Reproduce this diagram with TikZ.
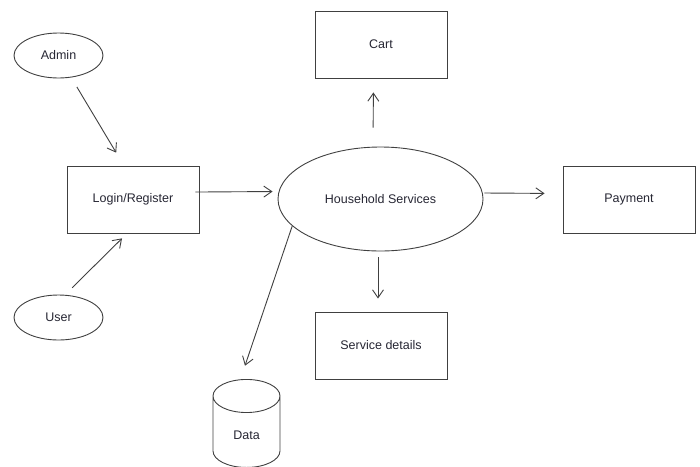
\documentclass[tikz,border=0pt]{standalone}
\usepackage{fontspec}
\setmainfont{Liberation Sans}
\usetikzlibrary{arrows.meta,shapes.geometric}
\definecolor{linegray}{rgb}{0.25,0.25,0.25}
\definecolor{textgray}{rgb}{0.15,0.15,0.2}
\tikzset{box/.style = {shape=rectangle,draw=linegray,line width=0.9pt,minimum width=132pt,minimum height=67pt,text=textgray}}
\tikzset{actor/.style = {shape=ellipse,draw=linegray,line width=0.9pt,minimum width=89pt,minimum height=45pt,inner sep=0pt,text=textgray}}
\tikzset{store/.style = {shape=cylinder,shape border rotate=90,aspect=1,draw=linegray,line width=0.9pt,minimum width=67pt,minimum height=88pt,text=textgray}}
\tikzset{edge/.style = {-{Straight Barb[length=8pt,width=11pt]},draw=linegray,line width=0.9pt}}

\begin{document}
\begin{tikzpicture}[x=1pt,y=-1pt,font=\fontsize{12.5}{15}\selectfont]
\useasboundingbox (0,0) rectangle (700,466);
% vertices
\node[actor] (admin) at (58.5,55.5) {Admin};
\node[actor] (user) at (58.5,317.5) {User};
\node[box] (login) at (133,199.5) {Login/Register};
\node[actor,minimum width=205pt,minimum height=104pt] (hs) at (380.5,199) {Household Services};
\node[box] (cart) at (381,44.5) {Cart};
\node[box] (payment) at (629,199.5) {Payment};
\node[box] (service) at (381,345.5) {Service details};
\node[store,anchor=north] (data) at (246.5,379) {Data};

%edges
\draw[edge,shorten <=11pt,shorten >=15pt] (admin.-60) to (login.105);
\draw[edge,shorten <=10pt,shorten >=7pt] (user.74) to (login.-100);
\draw[edge,shorten <=-4pt,shorten >=5pt] ([yshift=7.5pt]login.east) to ([yshift=7.5pt]hs.west);
\draw[edge,shorten <=19pt,shorten >=14pt] ([xshift=-7.5pt]hs.north) to ([xshift=-7.5pt]cart.south);
\draw[edge,shorten <=1pt,shorten >=18pt] ([yshift=6pt]hs.east) to ([yshift=6pt]payment.west);
\draw[edge,shorten <=6pt,shorten >=13pt] ([xshift=-2.5pt]hs.south) to ([xshift=-3pt]service.north);
\draw[edge,shorten >=14pt] (hs.197) to ([xshift=-6pt]data.north);
\end{tikzpicture}
\end{document}
